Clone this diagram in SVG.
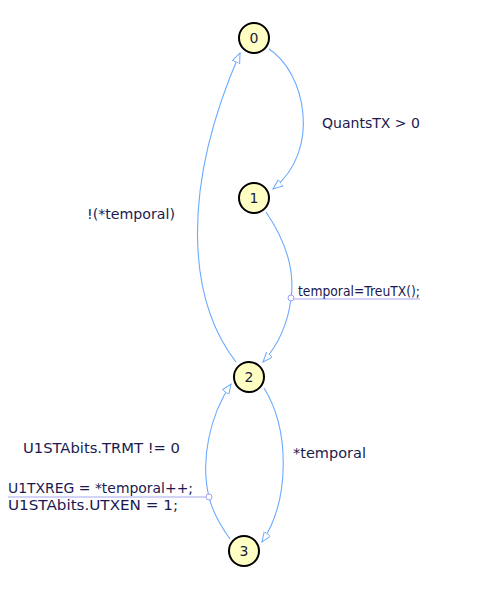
<svg xmlns="http://www.w3.org/2000/svg" width="483" height="608" viewBox="0 0 483 608">
<style>
.node circle{fill:#ffffc4;stroke:#000;stroke-width:2}
.node text{font-family:"DejaVu Sans",sans-serif;font-size:14px;fill:#1a1a40;text-anchor:middle}
.edge{fill:none;stroke:#6aaaff;stroke-width:1.1}
.lbl{font-family:"DejaVu Sans",sans-serif;font-size:14.5px;fill:#1a1a50}
.lline{stroke:#a8a8f0;stroke-width:1.2}
.dot{fill:#fff;stroke:#a0a0f0;stroke-width:1}
</style>
<defs>
<marker id="arr" markerWidth="12" markerHeight="10" refX="10" refY="4" orient="auto" markerUnits="userSpaceOnUse">
<path d="M0,0 L10,4 L0,8 Z" fill="#fff" stroke="#6aaaff" stroke-width="1"/>
</marker>
</defs>
<rect width="483" height="608" fill="#fff"/>
<g id="connectors">
<path class="edge" d="M269,49 C305,72 322,150 273,189" marker-end="url(#arr)"/>
<path class="edge" d="M266,212 C285,240 295,270 291,298 C288,325 278,345 263,362" marker-end="url(#arr)"/>
<path class="edge" d="M236,362 C188,300 180,190 240,53" marker-end="url(#arr)"/>
<path class="edge" d="M264,388 C290,430 290,500 262,542" marker-end="url(#arr)"/>
<path class="edge" d="M230,539 C220,525 212,510 209,497 C200,460 210,415 231,384" marker-end="url(#arr)"/>
<line class="lline" x1="294" y1="299" x2="420" y2="299"/>
<circle class="dot" cx="291" cy="298" r="3"/>
<line class="lline" x1="8" y1="497" x2="206" y2="497"/>
<circle class="dot" cx="209" cy="497" r="3"/>
<text class="lbl" x="322" y="128" textLength="98" lengthAdjust="spacingAndGlyphs">QuantsTX &gt; 0</text>
<text class="lbl" x="87" y="219" textLength="88" lengthAdjust="spacingAndGlyphs">!(*temporal)</text>
<text class="lbl" x="298" y="296" textLength="122" lengthAdjust="spacingAndGlyphs">temporal=TreuTX();</text>
<text class="lbl" x="293" y="458" textLength="73" lengthAdjust="spacingAndGlyphs">*temporal</text>
<text class="lbl" x="23" y="453" textLength="157" lengthAdjust="spacingAndGlyphs">U1STAbits.TRMT != 0</text>
<text class="lbl" x="8" y="493" textLength="185" lengthAdjust="spacingAndGlyphs">U1TXREG = *temporal++;</text>
<text class="lbl" x="8" y="510" textLength="170" lengthAdjust="spacingAndGlyphs">U1STAbits.UTXEN = 1;</text>
</g>
<g id="node0" class="node"><circle cx="254" cy="38" r="15"/><text x="254" y="43">0</text></g>
<g id="node1" class="node"><circle cx="254" cy="198" r="15"/><text x="254" y="203">1</text></g>
<g id="node2" class="node"><circle cx="249" cy="377" r="15"/><text x="249" y="382">2</text></g>
<g id="node3" class="node"><circle cx="244" cy="551" r="15"/><text x="244" y="556">3</text></g>
</svg>
